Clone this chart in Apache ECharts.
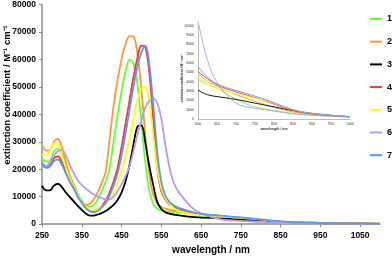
<!DOCTYPE html>
<html><head><meta charset="utf-8">
<script src="https://cdn.jsdelivr.net/npm/echarts@6/dist/echarts.min.js"></script>
<style>html,body{margin:0;padding:0;background:#fff}#c{width:392px;height:260px}</style>
</head><body><div id="c"></div>
<script>
const wavelengths = [250,260,270,280,290,300,310,320,330,340,350,360,370,380,390,400,410,420,430,440,450,460,470,480,490,500,510,520,530,540,550,560,570,580,590,600,625,650,700,750,800,850,900,950,1000,1050,1100];
const s1 = [24000,22800,23000,26500,27500,25500,21500,17500,14500,11000,8500,6800,6300,7000,9000,12000,15500,20500,30000,39500,48500,55500,59800,58500,51000,37000,22000,12000,7300,5600,5000,4700,4600,4500,4400,4250,3700,3300,2100,1300,900,600,400,300,200,150,100];
const s2 = [29000,26800,27000,30000,31000,28000,22500,17500,14000,10500,8200,7000,7300,9000,11500,15000,19000,31000,43000,52500,60000,65500,68500,68300,62000,49000,32000,18000,10500,7500,6200,5600,5300,5100,5000,4900,4000,3500,2600,1900,1250,750,500,350,250,150,100];
const s3 = [14000,12300,12300,14000,14700,13500,11500,9800,8300,6600,5200,3900,3100,3100,3500,4000,4800,5800,7000,8800,11500,15500,21500,29000,35500,36000,29500,21000,14000,8000,5500,4300,3800,3500,3300,3100,2600,2400,2100,1700,1300,900,600,400,250,150,100];
const s4 = [22500,21000,21500,24000,24700,22500,19000,15500,13000,10000,7800,6000,4800,4600,5500,6500,8500,11500,15500,20500,28000,36500,45000,53500,60500,65000,64500,55000,38000,20000,12000,9000,7200,6300,5700,5100,4300,3650,2900,2300,1600,900,550,350,250,200,150];
const s5 = [25500,25000,27000,29300,28800,25000,20500,16500,13500,10500,8000,6300,5300,5000,5500,6300,7300,9000,11500,15000,19500,25000,31000,38500,45000,49500,50000,44000,32000,20000,13000,9500,7500,6000,5100,4600,3700,3300,2700,2250,1700,1000,600,400,250,200,150];
const s6 = [22500,21000,22500,25000,26500,27000,25000,21500,18500,16000,14200,13000,11800,10800,10000,9500,9000,9000,10000,12000,14500,17500,21000,26500,32500,38000,42500,45000,45700,44000,38500,29000,21000,15500,12500,10500,6300,3900,1700,1150,850,550,400,300,200,150,100];
const s7 = [22000,20500,21000,23000,23500,21500,18500,15500,13000,10000,7800,5800,4700,4300,4800,6000,7800,10500,14000,18500,25000,33000,41500,50000,57500,62500,65000,58000,43000,26000,15500,10500,8200,7000,6200,5600,4500,3750,3050,2450,1750,1000,600,400,250,200,150];
const seriesNames = ['1','2','3','4','5','6','7'];
const seriesColors = ['#66FF33','#FF9933','#000000','#FF3333','#FFFF00','#BB99EE','#5599FF'];
const xTickLabels = [250,350,450,550,650,750,850,950,1050];
const insetXTickLabels = [600,650,700,750,800,850,900,950,1000];

const allValues = [s1,s2,s3,s4,s5,s6,s7];
function pairs(vals, lo, hi){
  return wavelengths.map((w,i)=>[w, vals[i]]).filter(p=>p[0]>=lo && p[0]<=hi);
}
const plain = v => String(v);
const FONT = '"Liberation Sans", Arial, sans-serif';
const series = [];
allValues.forEach((v,i)=>{
  series.push({name:seriesNames[i], type:'line', xAxisIndex:0, yAxisIndex:0, smooth:0.35, symbol:'none',
    data:pairs(v,250,1100), lineStyle:{color:seriesColors[i], width:1.8}, itemStyle:{color:seriesColors[i]}});
});
allValues.forEach((v,i)=>{
  series.push({name:seriesNames[i], type:'line', xAxisIndex:1, yAxisIndex:1, smooth:0.35, symbol:'none', clip:false,
    data:pairs(v,600,1000), lineStyle:{color:seriesColors[i], width:0.9}, itemStyle:{color:seriesColors[i]}});
});
const chart = echarts.init(document.getElementById('c'), null, {renderer:'canvas'});
chart.setOption({
  animation:false,
  backgroundColor:'#fff',
  grid:[{left:42, top:4, width:338, height:228},
        {left:198, top:25.7, width:152, height:93.3}],
  xAxis:[{type:'value', gridIndex:0, min:250, max:1100,
          axisLine:{lineStyle:{color:'#8c8c8c', width:1.5}},
          axisTick:{show:true, length:3, customValues:xTickLabels, lineStyle:{color:'#8c8c8c'}},
          axisLabel:{customValues:xTickLabels, formatter:plain, margin:7, color:'#000', fontFamily:FONT, fontWeight:'bold', fontSize:8.5},
          splitLine:{show:false},
          name:'wavelength / nm', nameLocation:'middle', nameGap:20,
          nameTextStyle:{color:'#000', fontFamily:FONT, fontWeight:'bold', fontSize:10}},
         {type:'value', gridIndex:1, min:600, max:1000, interval:50,
          axisLine:{lineStyle:{color:'#bbbbbb', width:1}},
          axisTick:{show:false},
          axisLabel:{formatter:plain, margin:3, color:'#333', fontFamily:FONT, fontSize:3.5},
          splitLine:{show:false},
          name:'wavelength / nm', nameLocation:'middle', nameGap:7,
          nameTextStyle:{color:'#333', fontFamily:FONT, fontWeight:'bold', fontSize:3.5}}],
  yAxis:[{type:'value', gridIndex:0, min:0, max:80000, interval:10000,
          axisLine:{show:true, lineStyle:{color:'#8c8c8c', width:1.5}},
          axisTick:{show:true, length:3, lineStyle:{color:'#8c8c8c'}},
          axisLabel:{formatter:plain, margin:6, color:'#000', fontFamily:FONT, fontWeight:'bold', fontSize:8.5},
          splitLine:{show:false}},
         {type:'value', gridIndex:1, min:0, max:10000, interval:1000,
          axisLine:{show:true, lineStyle:{color:'#bbbbbb', width:1}},
          axisTick:{show:false},
          axisLabel:{formatter:plain, margin:4, color:'#333', fontFamily:FONT, fontSize:3.5},
          splitLine:{show:false}}],
  legend:{orient:'vertical', left:370, top:14, padding:0, itemWidth:12, itemHeight:2, itemGap:12.7, icon:'rect',
          data:seriesNames, textStyle:{color:'#000', fontFamily:FONT, fontWeight:'bold', fontSize:9, lineHeight:10}},
  graphic:[
    {type:'text', x:7, y:95, rotation:Math.PI/2,
     style:{text:'extinction coefficient / M\u207B\u00B9 cm\u207B\u00B9', font:'bold 9.5px "Liberation Sans", Arial, sans-serif', fill:'#000', align:'center', verticalAlign:'middle'}},
    {type:'text', x:182, y:78, rotation:Math.PI/2,
     style:{text:'extinction coefficient / M\u207B\u00B9 cm\u207B\u00B9', font:'bold 3.3px "Liberation Sans", Arial, sans-serif', fill:'#333', align:'center', verticalAlign:'middle'}}
  ],
  series:series
});
</script></body></html>
